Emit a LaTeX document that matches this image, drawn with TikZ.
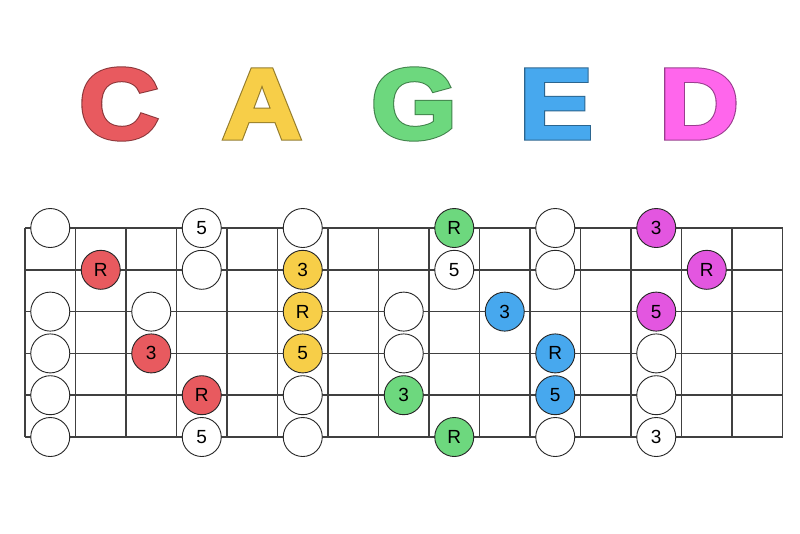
\documentclass[tikz,border=0pt]{standalone}
\usepackage{fontspec}
\setmainfont{Liberation Sans}
\newfontfamily\capsfont[FakeBold=2.5]{Liberation Sans Bold}
\newfontfamily\capsedge[FakeBold=4.5]{Liberation Sans Bold}
\usepackage{tikz}
\usetikzlibrary{positioning}

\definecolor{shapeC}{HTML}{E85A5F}
\definecolor{shapeA}{HTML}{F7CE48}
\definecolor{shapeG}{HTML}{6DD87E}
\definecolor{shapeE}{HTML}{47A8EE}
\definecolor{shapeD}{HTML}{FF66EC}
\definecolor{noteD}{HTML}{E356E0}

\tikzset{
	letter/.style={inner sep=0pt, xscale=1.1, font=\fontsize{100}{100}\capsfont},
	rim/.style={inner sep=0pt, xscale=1.1, font=\fontsize{100}{100}\capsedge},
	wire/.style={black!75, line width=1.6pt},
	dot/.style={circle, draw=black!85, line width=0.9pt, minimum size=39pt, inner sep=0pt,
		font=\fontsize{19}{19}\selectfont},
	blank/.style={dot, fill=white},
	onC/.style={dot, fill=shapeC},
	onA/.style={dot, fill=shapeA},
	onG/.style={dot, fill=shapeG},
	onE/.style={dot, fill=shapeE},
	onD/.style={dot, fill=noteD}
}

\begin{document}
\begin{tikzpicture}[x=1pt, y=-1pt]
	\useasboundingbox[fill=white] (0,0) rectangle (800,533);

	% big letters, a darker rim under each
	\node[rim, text=shapeC!60!black] at (119,104) {C};
	\node[rim, text=shapeA!60!black] at (262,104) {A};
	\node[rim, text=shapeG!60!black] at (414,104) {G};
	\node[rim, text=shapeE!60!black] at (556,104) {E};
	\node[rim, text=shapeD!60!black] at (699,104) {D};
	\node[letter, text=shapeC] (capC) at (119,104) {C};
	\node[letter, text=shapeA] (capA) at (262,104) {A};
	\node[letter, text=shapeG] (capG) at (414,104) {G};
	\node[letter, text=shapeE] (capE) at (556,104) {E};
	\node[letter, text=shapeD] (capD) at (699,104) {D};

	\begin{scope}[shift={(25,228)}, x=50.5pt, y=-41.8pt]
		% strings and frets
		\foreach \s in {0,...,5}
			\draw[wire] (0,\s) -- (15,\s);
		\foreach \f in {0,...,15}
			\draw[wire] (\f,0) -- (\f,5);

		% open strings
		\node[blank] (o1) at (0.5,0){};
		\node[blank] (o3) at (0.5,2){};
		\node[blank] (o4) at (0.5,3){};
		\node[blank] (o5) at (0.5,4){};
		\node[blank] (o6) at (0.5,5){};

		% C shape
		\node[onC] (cR1) at (1.5,1){R};
		\node[blank] (c3a) at (2.5,2){};
		\node[onC] (c3) at (2.5,3){3};
		\node[blank] (c5a) at (3.5,0){5};
		\node[blank] (c5b) at (3.5,1){};
		\node[onC] (cR2) at (3.5,4){R};
		\node[blank] (c5c) at (3.5,5){5};

		% A shape
		\node[blank] (a1) at (5.5,0){};
		\node[onA] (a3) at (5.5,1){3};
		\node[onA] (aR) at (5.5,2){R};
		\node[onA] (a5) at (5.5,3){5};
		\node[blank] (a5b) at (5.5,4){};
		\node[blank] (a6) at (5.5,5){};

		% G shape
		\node[blank] (g3a) at (7.5,2){};
		\node[blank] (g4) at (7.5,3){};
		\node[onG] (g3) at (7.5,4){3};
		\node[onG] (gR1) at (8.5,0){R};
		\node[blank] (g5) at (8.5,1){5};
		\node[onG] (gR2) at (8.5,5){R};

		% E shape
		\node[onE] (e3) at (9.5,2){3};
		\node[blank] (e1) at (10.5,0){};
		\node[blank] (e2) at (10.5,1){};
		\node[onE] (eR) at (10.5,3){R};
		\node[onE] (e5) at (10.5,4){5};
		\node[blank] (e6) at (10.5,5){};

		% D shape
		\node[onD] (d3) at (12.5,0){3};
		\node[onD] (dR) at (13.5,1){R};
		\node[onD] (d5) at (12.5,2){5};
		\node[blank] (d4) at (12.5,3){};
		\node[blank] (d5b) at (12.5,4){};
		\node[blank] (d3b) at (12.5,5){3};
	\end{scope}
\end{tikzpicture}
\end{document}
